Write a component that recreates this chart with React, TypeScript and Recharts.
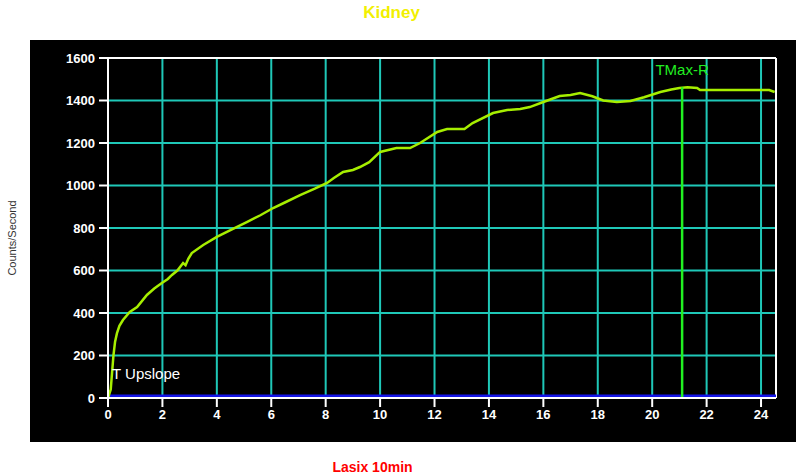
import React from "react";
import { LineChart, Line, XAxis, YAxis, CartesianGrid, ReferenceLine } from "recharts";

// renogram curve (minutes vs counts/second)
const times = [
  0, 0.1, 0.15, 0.2, 0.26, 0.33, 0.42, 0.55, 0.8, 1.07, 1.43, 1.7, 1.98, 2.2, 2.35, 2.55, 2.76, 2.85, 2.95, 3.08,
  3.5, 4.0, 4.5, 5.1, 5.6, 6.07, 6.5, 7.06, 7.6, 8.05, 8.3, 8.64, 9.0, 9.26, 9.6, 10.0, 10.6, 11.1,
  11.47, 12.1, 12.46, 13.1, 13.4, 14.15, 14.67, 15.15, 15.5, 16.0, 16.6, 17.0, 17.35, 17.8, 18.2,
  18.7, 19.2, 19.7, 20.3, 20.7, 21.0, 21.3, 21.65, 21.76, 22.5, 23.5, 24.3, 24.5,
];
const counts = [
  0, 40, 120, 200, 265, 305, 340, 367, 405, 428, 485, 515, 541, 560, 579, 600, 635, 625, 655, 682,
  720, 758, 790, 828, 860, 894, 920, 955, 985, 1012, 1035, 1064, 1073, 1087, 1110, 1158, 1176, 1176,
  1200, 1252, 1266, 1266, 1294, 1341, 1355, 1360, 1369, 1393, 1421, 1426, 1435, 1420, 1400,
  1393, 1398, 1415, 1440, 1452, 1459, 1462, 1459, 1449, 1449, 1449, 1449, 1440,
];

const baseTimes = [0, 24.55];
const baseCounts = [10, 10];

const xTicks = [0, 2, 4, 6, 8, 10, 12, 14, 16, 18, 20, 22, 24];
const yTicks = [0, 200, 400, 600, 800, 1000, 1200, 1400, 1600];

const tmaxTime = 21.1;
const tmaxCount = 1462;

const curve = times.map((t, i) => ({ t, c: counts[i] }));
const baseline = baseTimes.map((t, i) => ({ t, c: baseCounts[i] }));

const tickStyle = { fill: "#ffffff", fontSize: 13, fontWeight: 700, fontFamily: "Liberation Sans, Arial, sans-serif" };

export default function App() {
  return (
    <div style={{ position: "absolute", left: 0, top: 0, width: 797, height: 475, background: "#fff", fontFamily: "Liberation Sans, Arial, sans-serif" }}>
      <div style={{ position: "absolute", left: 30, top: 40, width: 766, height: 402, background: "#000" }} />
      <div style={{ position: "absolute", left: 0, top: 3, width: 783, textAlign: "center", color: "#f2f000", fontWeight: 700, fontSize: 17 }}>
        Kidney
      </div>
      <div
        style={{
          position: "absolute", left: 12, top: 238, transform: "translate(-50%, -50%) rotate(-90deg)",
          whiteSpace: "nowrap", fontSize: 11, color: "#333",
        }}
      >
        Counts/Second
      </div>
      <div style={{ position: "absolute", left: 0, top: 459, width: 745, textAlign: "center", color: "#ff0000", fontWeight: 700, fontSize: 14 }}>
        Lasix 10min
      </div>
      <div style={{ position: "absolute", left: 0, top: 0 }}>
        <LineChart width={797} height={475} margin={{ top: 58, right: 21, left: 0, bottom: 0 }}>
          <CartesianGrid stroke="#1fc8b8" strokeWidth={2} />
          <XAxis
            type="number"
            dataKey="t"
            domain={[0, 24.55]}
            ticks={xTicks}
            allowDataOverflow
            height={77}
            axisLine={{ stroke: "#ffffff", strokeWidth: 2 }}
            tickLine={{ stroke: "#ffffff", strokeWidth: 2 }}
            tickSize={9}
            tickMargin={3}
            tick={tickStyle}
          />
          <YAxis
            type="number"
            dataKey="c"
            domain={[0, 1600]}
            ticks={yTicks}
            width={108}
            axisLine={{ stroke: "#ffffff", strokeWidth: 2 }}
            tickLine={{ stroke: "#ffffff", strokeWidth: 2 }}
            tickSize={9}
            tickMargin={4}
            tick={tickStyle}
          />
          <ReferenceLine y={1600} stroke="#ffffff" strokeWidth={2} />
          <ReferenceLine x={24.55} stroke="#ffffff" strokeWidth={2} />
          <Line data={baseline} dataKey="c" stroke="#1414e6" strokeWidth={3} dot={false} isAnimationActive={false} />
          <Line data={curve} dataKey="c" type="linear" stroke="#a6ee00" strokeWidth={2.5} dot={false} isAnimationActive={false} />
          <ReferenceLine
            segment={[{ x: tmaxTime, y: 0 }, { x: tmaxTime, y: tmaxCount }]}
            stroke="#22f022"
            strokeWidth={2.5}
            label={{ value: "TMax-R", position: "top", offset: 12, fill: "#22ee22", fontSize: 15 }}
          />
        </LineChart>
      </div>
      <div style={{ position: "absolute", left: 112, top: 365, color: "#fff", fontSize: 15 }}>T Upslope</div>
    </div>
  );
}
